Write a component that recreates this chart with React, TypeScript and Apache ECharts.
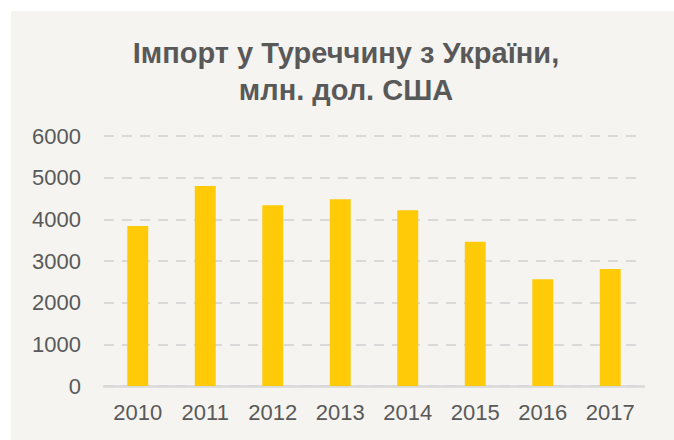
import React, { useEffect, useRef } from "react";
import * as echarts from "echarts";

const titleText = "Імпорт у Туреччину з України,\nмлн. дол. США";
const years = ["2010", "2011", "2012", "2013", "2014", "2015", "2016", "2017"];
const importValues = [3840, 4800, 4340, 4480, 4220, 3460, 2560, 2810];

export default function App() {
  const ref = useRef<HTMLDivElement>(null);
  useEffect(() => {
    if (!ref.current) return;
    const chart = echarts.init(ref.current, null, { renderer: "svg" });
    const font = "'Liberation Sans', Arial, sans-serif";
    chart.setOption({
      animation: false,
      backgroundColor: "#ffffff",
      graphic: [
        {
          type: "rect",
          z: -10,
          silent: true,
          shape: { x: 11, y: 11, width: 663, height: 429 },
          style: { fill: "#F5F4F0" },
        },
      ],
      title: {
        text: titleText,
        left: 341,
        top: 29,
        textAlign: "center",
        textStyle: {
          fontFamily: font,
          fontSize: 29,
          fontWeight: "bold",
          color: "#595959",
          lineHeight: 37,
        },
      },
      grid: { left: 104, right: 30, top: 136, bottom: 54, containLabel: false },
      xAxis: {
        type: "category",
        data: years,
        axisLine: { show: true, lineStyle: { color: "#D9D9D9", width: 2.5 } },
        axisTick: { show: false },
        axisLabel: { fontFamily: font, fontSize: 22, color: "#595959", margin: 15 },
      },
      yAxis: {
        type: "value",
        min: 0,
        max: 6000,
        interval: 1000,
        axisLine: { show: false },
        axisTick: { show: false },
        axisLabel: {
          fontFamily: font,
          fontSize: 22,
          color: "#595959",
          margin: 23,
          formatter: (v: number) => String(v),
        },
        splitLine: {
          show: true,
          lineStyle: { color: "#D9D9D9", width: 2, type: [10, 8] },
        },
      },
      series: [
        {
          type: "bar",
          data: importValues,
          barWidth: "31%",
          itemStyle: { color: "#FFCA08" },
        },
      ],
    });
    return () => chart.dispose();
  }, []);
  return (
    <div
      ref={ref}
      style={{ position: "fixed", left: 0, top: 0, width: 674, height: 440 }}
    />
  );
}
